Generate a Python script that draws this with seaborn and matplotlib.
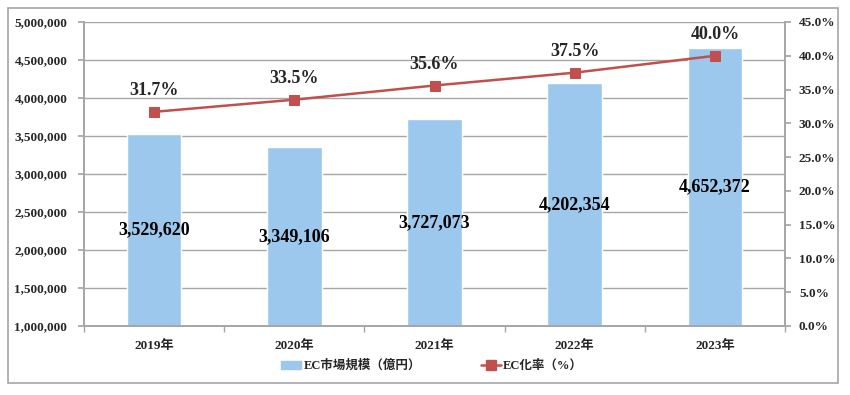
import numpy as np
import pandas as pd
import matplotlib
matplotlib.use("Agg")
import matplotlib.pyplot as plt
import matplotlib.patches as mpatches
from matplotlib.lines import Line2D
import seaborn as sns

years = ["2019年", "2020年", "2021年", "2022年", "2023年"]
market = [3529620, 3349106, 3727073, 4202354, 4652372]
ec_rate = [31.7, 33.5, 35.6, 37.5, 40.0]
bar_label = "EC市場規模（億円）"
line_label = "EC化率（%）"

sns.set_theme(style="white")
FAM = ["Liberation Serif", "Noto Sans CJK JP", "DejaVu Sans"]
plt.rcParams["font.family"] = FAM
plt.rcParams["font.weight"] = "bold"

BAR_C = "#9DC8EE"
LINE_C = "#C0504D"
GRID_C = "#A6A6A6"

fig = plt.figure(figsize=(8.5, 3.95), dpi=100)
ax = fig.add_axes([84/850, 1-326/395, (785-84)/850, (326-22)/395])

df = pd.DataFrame({"year": years, "market": market, "rate": ec_rate})
sns.barplot(data=df, x="year", y="market", color=BAR_C, saturation=1,
            width=0.39, ax=ax, zorder=2)
ax.set_ylim(1_000_000, 5_000_000)
ax.set_xlim(-0.5, len(years) - 0.5)
ax.set_yticks(np.arange(1_000_000, 5_000_001, 500_000))
ax.set_yticklabels([f"{int(v):,}" for v in ax.get_yticks()], fontsize=9.5, fontweight="bold")
ax.grid(axis="y", color=GRID_C, lw=1, zorder=0)
ax.set_axisbelow(True)
ax.set_xlabel("")
ax.set_ylabel("")
ax.tick_params(axis="y", left=True, length=4, color=GRID_C, pad=8)
ax.tick_params(axis="x", bottom=False, length=0, pad=10, labelsize=9.5)
for lab in ax.get_xticklabels():
    lab.set_fontweight("bold")
ax.set_xticks(np.arange(-0.5, len(years), 1.0), minor=True)
ax.tick_params(axis="x", which="minor", bottom=True, length=4, color=GRID_C)
for s in ["left", "bottom", "right", "top"]:
    ax.spines[s].set_color(GRID_C)
ax.spines["top"].set_visible(False)

# bar labels centered in visible bar
for i, v in enumerate(market):
    ax.text(i, (1_000_000 + v) / 2, f"{v:,}", ha="center", va="center",
            fontsize=13, fontweight="bold", color="black", zorder=5)

ax2 = ax.twinx()
sns.lineplot(x=np.arange(len(years)), y=ec_rate, ax=ax2, color=LINE_C, lw=1.8,
             marker="s", markersize=7, markeredgecolor=LINE_C, zorder=4)
ax2.set_ylim(0, 45)
ax2.set_yticks(np.arange(0, 45.1, 5))
ax2.set_yticklabels([f"{v:.1f}%" for v in np.arange(0, 45.1, 5)], fontsize=9.5, fontweight="bold")
ax2.tick_params(axis="y", right=True, length=4, color=GRID_C, pad=6)
for s in ["left", "bottom", "right", "top"]:
    ax2.spines[s].set_color(GRID_C)
ax2.spines["top"].set_visible(False)
ax2.set_xlim(-0.5, len(years) - 0.5)
for i, v in enumerate(ec_rate):
    ax2.annotate(f"{v:.1f}%", (i, v), xytext=(0, 9), textcoords="offset points",
                 ha="center", va="bottom", fontsize=13, fontweight="bold")

handles = [mpatches.Patch(color=BAR_C, label=bar_label),
           Line2D([0], [0], color=LINE_C, lw=1.8, marker="s", markersize=7, label=line_label)]
fig.legend(handles=handles, loc="center", bbox_to_anchor=(432/850, 1-366/395), ncol=2,
           frameon=False, prop={"size": 9, "weight": "bold", "family": FAM},
           columnspacing=4.8, handlelength=1.6, handletextpad=0.2, handleheight=0.6)

border = mpatches.Rectangle((8/850, 1-383/395), 830/850, 375/395, transform=fig.transFigure,
                            fill=False, edgecolor=GRID_C, lw=1.2)
fig.patches.append(border)

fig.savefig("out.png", dpi=100, facecolor="white")
